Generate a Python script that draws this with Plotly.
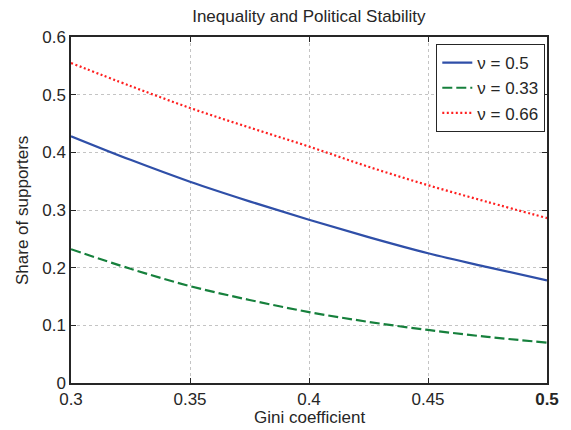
import plotly.graph_objects as go

gini = [0.3, 0.325, 0.35, 0.375, 0.4, 0.425, 0.45, 0.475, 0.5]
nu_050 = [0.428, 0.387, 0.349, 0.315, 0.283, 0.253, 0.225, 0.201, 0.178]
nu_033 = [0.232, 0.198, 0.168, 0.144, 0.123, 0.106, 0.092, 0.080, 0.070]
nu_066 = [0.555, 0.515, 0.477, 0.443, 0.410, 0.375, 0.343, 0.314, 0.286]
names = ["\u03bd = 0.5", "\u03bd = 0.33", "\u03bd = 0.66"]
x_ticks = [0.3, 0.35, 0.4, 0.45, 0.5]
x_ticktext = ["0.3", "0.35", "0.4", "0.45", "<b>0.5</b>"]
y_ticks = [0, 0.1, 0.2, 0.3, 0.4, 0.5, 0.6]
y_ticktext = ["0", "0.1", "0.2", "0.3", "0.4", "0.5", "0.6"]

FONT = "Liberation Sans, Arial, Helvetica"
INK = "#262626"

fig = go.Figure()
fig.add_trace(go.Scatter(x=gini, y=nu_050, name=names[0], mode="lines", line_shape="spline",
                         line=dict(color="#2f4fa8", width=2.2, dash="solid")))
fig.add_trace(go.Scatter(x=gini, y=nu_033, name=names[1], mode="lines", line_shape="spline",
                         line=dict(color="#16803c", width=2.2, dash="10px,4px")))
fig.add_trace(go.Scatter(x=gini, y=nu_066, name=names[2], mode="lines", line_shape="spline",
                         line=dict(color="#ff1f1f", width=2.2, dash="2px,2.5px")))

axis_common = dict(showline=True, linecolor=INK, linewidth=1.5, mirror="ticks",
                   ticks="inside", ticklen=5, tickcolor=INK,
                   showgrid=True, gridcolor="#c4c4c4", griddash="dot", gridwidth=1,
                   zeroline=False, tickfont=dict(family=FONT, size=17, color=INK))

fig.update_xaxes(range=[0.3, 0.5], tickvals=x_ticks, ticktext=x_ticktext, **axis_common)
fig.update_yaxes(range=[0, 0.6], tickvals=y_ticks, ticktext=y_ticktext, **axis_common)

fig.update_layout(
    width=571, height=430,
    margin=dict(l=71, r=24, t=37, b=47),
    paper_bgcolor="white", plot_bgcolor="white",
    title=dict(text="Inequality and Political Stability", x=0.541, xanchor="center",
               yref="container", y=0.962, yanchor="middle",
               font=dict(family=FONT, size=17, color=INK)),
    legend=dict(x=0.996, y=0.98, xanchor="right", yanchor="top", bgcolor="white",
                bordercolor=INK, borderwidth=1.2,
                font=dict(family=FONT, size=17, color=INK),
                tracegroupgap=0, itemwidth=30),
    showlegend=True,
    annotations=[
        dict(text="Gini coefficient", xref="paper", yref="paper", x=0.5, y=-0.1,
             xanchor="center", yanchor="middle", showarrow=False, borderpad=0,
             font=dict(family=FONT, size=17, color=INK)),
        dict(text="Share of supporters", xref="paper", yref="paper", x=-0.103, y=0.5,
             xanchor="center", yanchor="middle", textangle=-90, showarrow=False, borderpad=0,
             font=dict(family=FONT, size=17, color=INK)),
    ],
)

fig.write_html("out.html", config={"displayModeBar": False},
               post_script="document.body.style.margin='0';document.body.style.padding='0';document.body.style.overflow='hidden';")
